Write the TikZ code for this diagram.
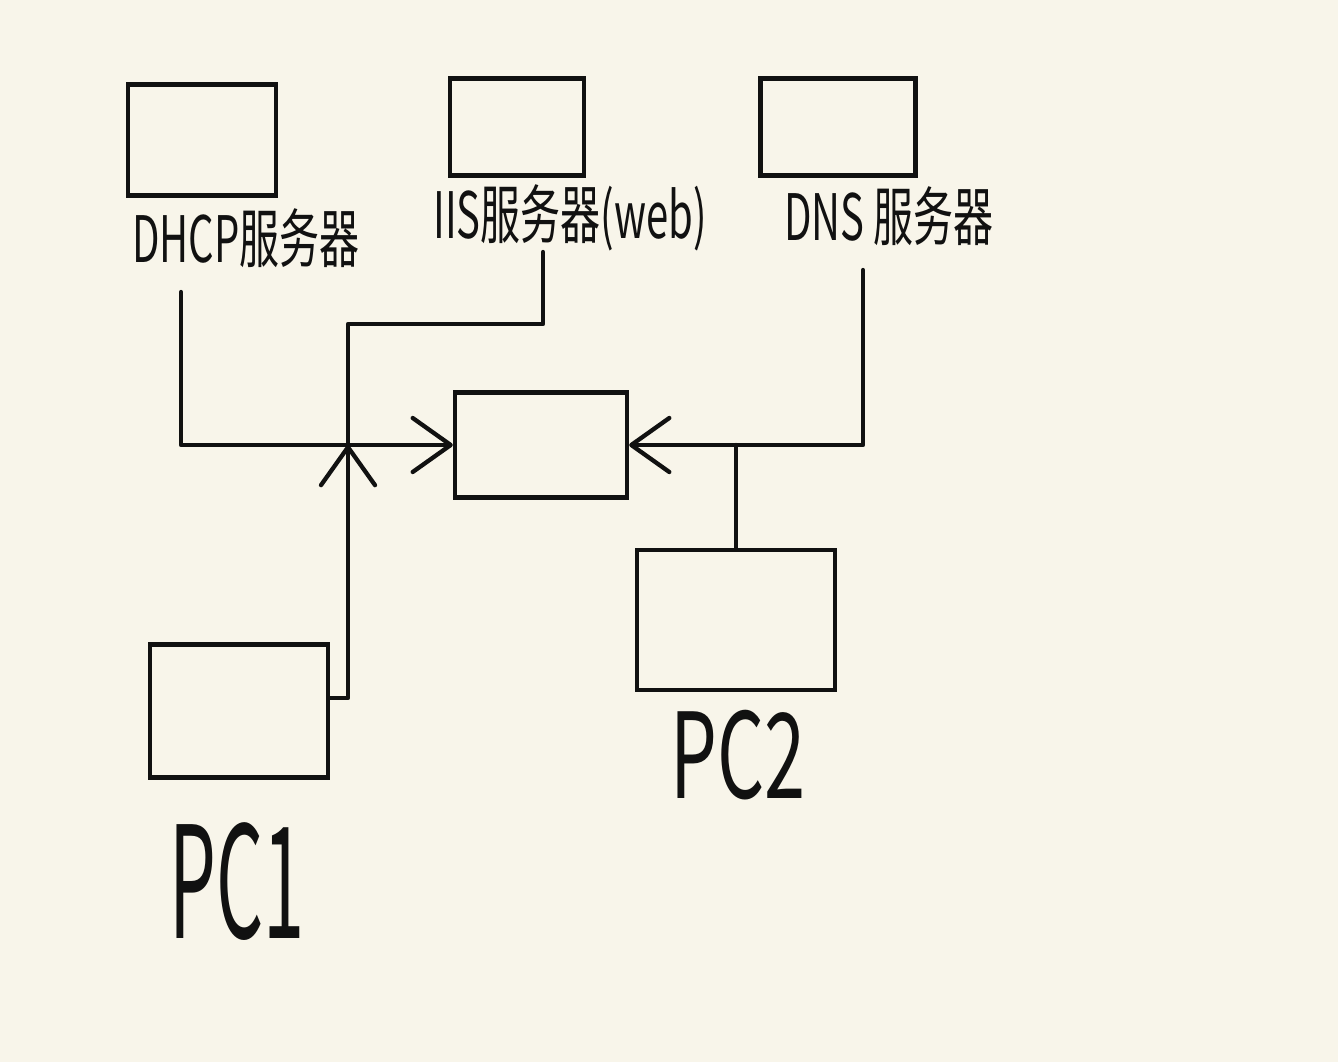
\documentclass[tikz,border=0pt]{standalone}
\usepackage{fontspec}
\setmainfont{Noto Sans CJK SC}
\usepackage{tikz}
\usetikzlibrary{arrows.meta}
\definecolor{paper}{HTML}{F8F5EA}
\definecolor{ink}{HTML}{111111}
\newcommand{\tall}[2][1.6]{\scalebox{1}[#1]{#2}}

\begin{document}
\begin{tikzpicture}[x=1pt,y=-1pt, every node/.style={font=\fontsize{40}{48}\selectfont,text=ink},
  box/.style={draw=ink,line width=4.3pt,inner sep=0pt},
  big/.style={font=\fontsize{74}{80}\selectfont},
  wire/.style={draw=ink,line width=4.3pt,line cap=round,line join=round},
  arr/.style={-{Straight Barb[length=38pt,width=54pt,round]}}]
\useasboundingbox (0,0) rectangle (1338,1062);
\fill[paper] (0,0) rectangle (1338,1062);
\node[box,minimum width=148pt,minimum height=111pt] (dhcp) at (202,140) {};
\node[box,minimum width=134pt,minimum height=97pt] (iis) at (517,127) {};
\node[box,minimum width=155pt,minimum height=97pt] (dns) at (838,127) {};
\node[box,minimum width=172pt,minimum height=105pt] (sw) at (541,445) {};
\node[box,minimum width=178pt,minimum height=133pt] (pc1) at (239,711) {};
\node[box,minimum width=198pt,minimum height=140pt] (pc2) at (736,620) {};
\node (dhcplbl) at (246,238) {\tall{DHCP服务器}};
\node (iislbl) at (570,218) {\tall{IIS服务器(web)}};
\node (dnslbl) at (889,216) {\tall{DNS 服务器}};
\node[big] (pc1lbl) at (237,882) {\tall[2.1]{PC1}};
\node[big] (pc2lbl) at (738,755) {\tall[1.6]{PC2}};
\coordinate (dhcpout) at (181,292);
\coordinate (iisout) at (543,252);
\coordinate (dnsout) at (863,270);
\coordinate (hub) at (348,445);
\draw[wire,arr] (dhcpout) |- (sw.west);
\draw[wire] (iisout) -- ++(0,72) -| (hub);
\draw[wire,arr] ([yshift=13pt]pc1.east) -| (hub);
\draw[wire,arr] (dnsout) |- (sw.east);
\draw[wire] (pc2.north) -- (pc2.north |- sw.east);
\end{tikzpicture}
\end{document}
